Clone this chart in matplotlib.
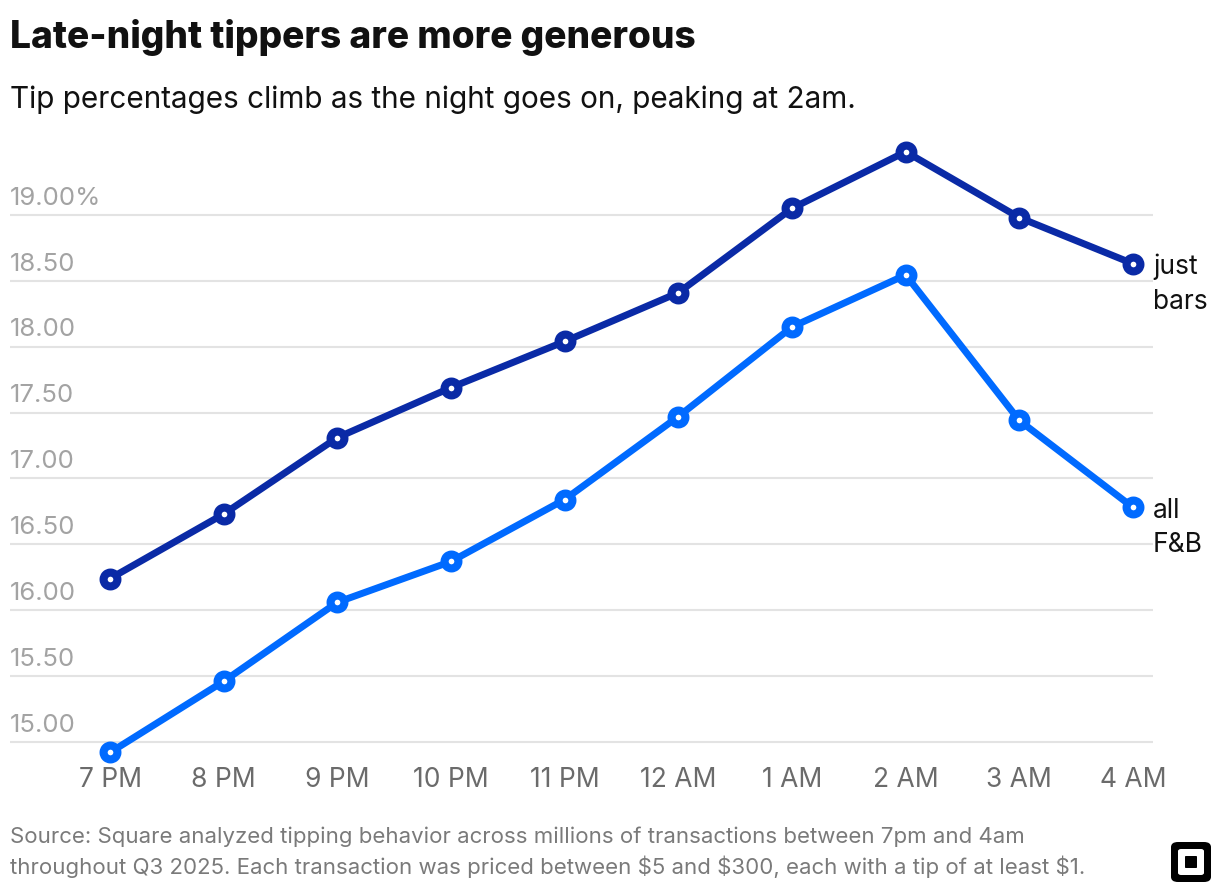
import matplotlib
matplotlib.use("Agg")
import matplotlib.pyplot as plt
from matplotlib.patches import FancyBboxPatch
import matplotlib.transforms as mtransforms

plt.rcParams['font.family'] = ['Inter', 'DejaVu Sans']

# data
hours = ["7 PM", "8 PM", "9 PM", "10 PM", "11 PM", "12 AM", "1 AM", "2 AM", "3 AM", "4 AM"]
just_bars = [16.24, 16.73, 17.31, 17.69, 18.04, 18.41, 19.05, 19.48, 18.98, 18.63]
all_fb = [14.92, 15.46, 16.06, 16.37, 16.84, 17.47, 18.15, 18.545, 17.44, 16.78]
yticks = [15.0, 15.5, 16.0, 16.5, 17.0, 17.5, 18.0, 18.5, 19.0]
ytick_labels = ["15.00", "15.50", "16.00", "16.50", "17.00", "17.50", "18.00", "18.50", "19.00%"]

W, H = 1220, 892
fig = plt.figure(figsize=(W / 100, H / 100), dpi=100)

# axes in pixel box: left 10, right 1153, top 130, bottom 770
ax = fig.add_axes([10 / W, 1 - 770 / H, (1153 - 10) / W, (770 - 130) / H])
ax.set_xlim(-0.88, 9.176)
ax.set_ylim(14.787, 19.645)
for s in ax.spines.values():
    s.set_visible(False)
ax.set_xticks([])
ax.set_yticks([])

for v in yticks:
    ax.axhline(v, color="#e3e3e3", lw=1.5, zorder=0)
trans = mtransforms.blended_transform_factory(ax.transAxes, ax.transData)
for v, lab in zip(yticks, ytick_labels):
    ax.text(0, v + 0.04, lab, transform=trans, ha="left", va="bottom",
            fontsize=18.5, color="#a3a3a3")

x = list(range(len(hours)))
c_dark = "#0a2aa6"
c_light = "#006aff"
for ys, c in [(just_bars, c_dark), (all_fb, c_light)]:
    ax.plot(x, ys, color=c, lw=5, marker="o", markersize=10,
            markerfacecolor="white", markeredgecolor=c, markeredgewidth=5.8,
            clip_on=False, zorder=3, solid_capstyle="round")

for i, lab in enumerate(hours):
    fig.text(ax.transData.transform((i, 0))[0] / W, 1 - 780 / H, lab,
             ha="center", va="center", fontsize=19, color="#6b6b6b")

# end labels
fig.text(1153 / W, 1 - 267 / H, "just", ha="left", va="center", fontsize=19, color="#111111")
fig.text(1153 / W, 1 - 302 / H, "bars", ha="left", va="center", fontsize=19, color="#111111")
fig.text(1153 / W, 1 - 511 / H, "all", ha="left", va="center", fontsize=19, color="#111111")
fig.text(1153 / W, 1 - 545 / H, "F&B", ha="left", va="center", fontsize=19, color="#111111")

fig.text(10 / W, 1 - 37 / H, "Late-night tippers are more generous", ha="left", va="center",
         fontsize=26.7, fontweight="heavy", color="#111111")
fig.text(10 / W, 1 - 100 / H, "Tip percentages climb as the night goes on, peaking at 2am.",
         ha="left", va="center", fontsize=21.4, color="#111111")
fig.text(10 / W, 1 - 837 / H,
         "Source: Square analyzed tipping behavior across millions of transactions between 7pm and 4am",
         ha="left", va="center", fontsize=16, color="#7a7a7a")
fig.text(10 / W, 1 - 867 / H,
         "throughout Q3 2025. Each transaction was priced between $5 and $300, each with a tip of at least $1.",
         ha="left", va="center", fontsize=16, color="#7a7a7a")

# logo
def px_box(x0, y0, w, h, pad, fc):
    p = FancyBboxPatch((x0 / W, 1 - (y0 + h) / H), w / W, h / H,
                       boxstyle="round,pad=0,rounding_size=%f" % (pad / W),
                       transform=fig.transFigure, fc=fc, ec="none")
    fig.patches.append(p)

px_box(1171, 842, 40, 40, 7, "black")
px_box(1178, 849, 26, 26, 3, "white")
px_box(1185, 856, 12, 12, 1, "black")

fig.savefig("out.png", dpi=100)
